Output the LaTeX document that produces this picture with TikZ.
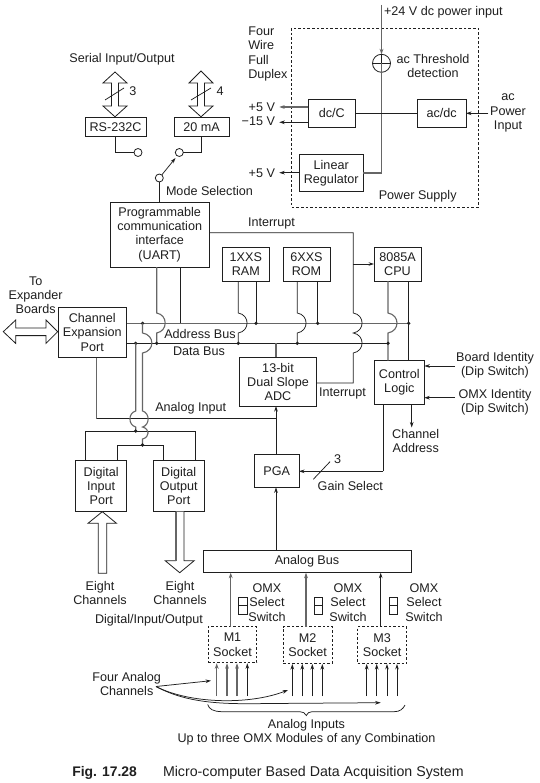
\documentclass[tikz,border=0pt]{standalone}
\usepackage{fontspec}
\setmainfont{Liberation Sans}
\usetikzlibrary{arrows.meta}
\definecolor{ink}{gray}{0.12}
\definecolor{wire}{gray}{0.4}
\tikzset{
  x=1pt,y=-1pt,
  every node/.style={inner sep=0pt,outer sep=0pt},
  txt/.style={font=\fontsize{12.6}{14.2}\selectfont,text=ink,align=center},
  blk/.style={draw=ink,line width=0.8pt,fill=white,txt,minimum width=0pt,minimum height=0pt},
  dashblk/.style={blk,dashed,dash pattern=on 2.4pt off 2pt},
  ln/.style={draw=ink,line width=0.75pt},
  gl/.style={draw=wire,line width=1.1pt},
  arr/.style={ln,-{Stealth[length=5.5pt,width=3.6pt]}},
  garr/.style={gl,-{Stealth[length=5.5pt,width=3.8pt]}},
  dotn/.style={circle,fill=ink,minimum size=3.6pt},
  port/.style={circle,draw=ink,line width=0.8pt,fill=white,minimum size=8pt},
  hollow/.style={draw=ink,line width=0.8pt,fill=white,line join=miter},
}
\newcommand{\lbl}[3]{\node[txt] at (#1,#2) {#3};}
\begin{document}
\begin{tikzpicture}
\useasboundingbox (0,0) rectangle (539,783);
\fill[white] (0,0) rectangle (539,783);

% ---- power supply
\draw[ink,line width=0.8pt,dash pattern=on 2.6pt off 2pt] (291.7,28) rectangle (478,207.3);
\node[blk,minimum width=46.7pt,minimum height=28pt] (dcc) at (331.7,113.3) {dc/C};
\node[blk,minimum width=48.7pt,minimum height=28pt] (acdc) at (441.7,113.3) {ac/dc};
\node[blk,minimum width=64.3pt,minimum height=37.4pt] (linreg) at (331.2,173) {Linear\\Regulator};
\node[circle,draw=ink,line width=0.8pt,minimum size=18pt] (thr) at (381.5,63.3) {};
\draw[ln] (thr.west) -- (thr.east);
\coordinate (top24) at (thr.north |- 0,5);
\draw[garr] (top24) -- (thr.north);
\coordinate (junc) at (thr.center |- linreg.east);
\draw[ln,line width=0.6pt] (thr.north) -- (thr.center);
\draw[gl] (thr.center) -- (junc) -- (linreg.east);
\draw[ln] (dcc.east) -- (acdc.west);
\coordinate (ps1) at (279.3,107); \coordinate (ps2) at (279.3,122.3); \coordinate (ps3) at (279.3,172.7);
\draw[garr] (dcc.west |- ps1) -- (ps1);
\draw[arr] (dcc.west |- ps2) -- (ps2);
\draw[arr] (linreg.west |- ps3) -- (ps3);
\coordinate (acin) at (488.3,113.3);
\draw[arr] (acin) -- (acdc.east);
\node[txt,anchor=west] at (384,12) {+24 V dc power input};
\lbl{433}{66}{ac Threshold\\detection}
\node[txt,align=left,anchor=north west] at (248.3,27) {Four\\Wire\\Full\\Duplex};
\node[txt,anchor=east] at (275,107) {+5 V};
\node[txt,anchor=east] at (275,121.5) {\textminus15 V};
\node[txt,anchor=east] at (275,173) {+5 V};
\lbl{508}{113}{ac\\Power\\Input}
\lbl{417.7}{196.7}{Power Supply}

% ---- serial section
\lbl{122}{59}{Serial Input/Output}
\node[blk,minimum width=61pt,minimum height=19.5pt] (rs) at (115.5,126.7) {RS-232C};
\node[blk,minimum width=55pt,minimum height=19.5pt] (ma) at (201.5,126.7) {20 mA};
\draw[hollow] (115,72) -- (127,83) -- (118.5,83) -- (118.5,106) -- (127,106) -- (115,116.8) -- (103,106) -- (111.5,106) -- (111.5,83) -- (103,83) -- cycle;
\draw[hollow] (201,71) -- (213,83) -- (204.5,83) -- (204.5,106) -- (213,106) -- (201,116.8) -- (189,106) -- (197.5,106) -- (197.5,83) -- (189,83) -- cycle;
\coordinate (s1a) at (105,100); \coordinate (s1b) at (124,88);
\coordinate (s2a) at (191,100); \coordinate (s2b) at (211,88);
\draw[ln] (s1a) -- (s1b); \draw[ln] (s2a) -- (s2b);
\lbl{133}{91}{3}
\lbl{220}{91}{4}
\node[port] (p1) at (138,152.5) {};
\node[port] (p2) at (179.3,152.5) {};
\node[port] (pv) at (159.3,178) {};
\draw[ln] (rs.south) -- (rs.south |- p1) -- (p1.west);
\draw[ln] (ma.south) -- (ma.south |- p2) -- (p2.east);
\draw[arr] (pv) -- (175.5,158);
\node[txt,anchor=west] at (166,190.5) {Mode Selection};

% ---- UART
\node[blk,minimum width=99.4pt,minimum height=65pt] (uart) at (159.7,234.5) {Programmable\\communication\\interface\\(UART)};
\draw[ln] (pv.south) -- (pv.south |- uart.north);
\node[txt,anchor=west] at (248,223) {Interrupt};

% ---- memory / cpu
\node[blk,minimum width=46.3pt,minimum height=34pt] (ram) at (245.8,264) {1XXS\\RAM};
\node[blk,minimum width=47pt,minimum height=34pt] (rom) at (306.5,264) {6XXS\\ROM};
\node[blk,minimum width=47pt,minimum height=34pt] (cpu) at (397.5,264) {8085A\\CPU};
\node[blk,minimum width=68.7pt,minimum height=50.7pt] (chan) at (92.3,332.3) {Channel\\Expansion\\Port};
\node[blk,minimum width=77.4pt,minimum height=48.7pt] (adc) at (278,381.7) {13-bit\\Dual Slope\\ADC};
\node[blk,minimum width=50pt,minimum height=43.6pt] (ctl) at (399.3,382.5) {Control\\Logic};
\node[blk,minimum width=44.7pt,minimum height=33pt] (pga) at (276.7,470.8) {PGA};
\node[blk,minimum width=208pt,minimum height=22pt] (abus) at (307,561.7) {Analog Bus};
\node[blk,minimum width=51pt,minimum height=50.6pt] (dip) at (101.2,486) {Digital\\Input\\Port};
\node[blk,minimum width=51.3pt,minimum height=50.6pt] (dop) at (178.7,486) {Digital\\Output\\Port};
\node[dashblk,minimum width=48.4pt,minimum height=36pt] (m1) at (232.5,644.7) {M1\\Socket};
\node[dashblk,minimum width=48.7pt,minimum height=36.6pt] (m2) at (307.7,645) {M2\\Socket};
\node[dashblk,minimum width=49pt,minimum height=36.6pt] (m3) at (382.2,645) {M3\\Socket};

% ---- expander arrow
\draw[hollow] (3.3,331.7) -- (15.7,320) -- (15.7,328) -- (46,328) -- (46,320) -- (57.7,331.7) -- (46,343.4) -- (46,335.6) -- (15.7,335.6) -- (15.7,343.4) -- cycle;
\lbl{35.7}{295}{To\\Expander\\Boards}

% ---- buses
\coordinate (adrR) at (408.7,323.3);
\coordinate (datR) at (388,343.3);
\draw[gl] (chan.east |- adrR) -- (adrR);
\draw[ln] (chan.east |- datR) -- (datR);
\node[txt] at (200,334) {Address Bus};
\node[txt] at (199,351) {Data Bus};

\draw[gl] (uart.south -| 156.7,0) -- (156.7,313) .. controls (168,315) and (168,331) .. (156.7,333) -- (156.7,343.3);
\node[dotn] (d1) at (156.7,343.3) {};
\draw[ln] (uart.south -| 180.3,0) -- (180.3,323.3);
\draw[ln] (ram.south -| 238.3,0) -- (238.3,313) .. controls (250,315) and (250,331) .. (238.3,333) -- (238.3,343.3);
\node[dotn] at (238.3,343.3) {};
\draw[ln] (ram.south -| 256,0) -- (256,323.3);
\node[dotn] at (256,323.3) {};
\draw[ln] (rom.south -| 297.3,0) -- (297.3,313) .. controls (309,315) and (309,331) .. (297.3,333) -- (297.3,343.3);
\node[dotn] at (297.3,343.3) {};
\draw[ln] (rom.south -| 317.7,0) -- (317.7,323.3);
\node[dotn] at (317.7,323.3) {};
\draw[gl] (cpu.south -| 388,0) -- (388,313) .. controls (400,315) and (400,331) .. (388,333) -- (388,343.3) -- (ctl.north -| 388,0);
\node[dotn] at (388,343.3) {};
\draw[ln] (cpu.south -| 408.7,0) -- (ctl.north -| 408.7,0);
\node[dotn] at (408.7,323.3) {};
\draw[gl] (276,343.3) -- (adc.north -| 276,0);

% ---- interrupt
\coordinate (i1) at (353.3,232.7);
\draw[ln] (uart.east |- i1) -- (i1) -- (353.3,313) .. controls (365,315) and (365,331) .. (353.3,333) .. controls (365,335) and (365,351) .. (353.3,353) -- (353.3,383) -- (adc.east |- 0,383);
\draw[arr] (353.3,264) -- (cpu.west);
\node[txt,anchor=west] at (319,393.5) {Interrupt};

% ---- control logic I/O
\coordinate (bi) at (455,366); \coordinate (oi) at (455,397.7);
\draw[arr] (bi) -- (ctl.east |- bi);
\draw[arr] (oi) -- (ctl.east |- oi);
\lbl{495}{365}{Board Identity\\(Dip Switch)}
\lbl{495}{402}{OMX Identity\\(Dip Switch)}
\coordinate (ca) at (411.7,427.5);
\draw[arr] (ctl.south -| ca) -- (ca);
\lbl{415.7}{441}{Channel\\Address}
\coordinate (gc) at (383.3,471.3);
\draw[ln] (ctl.south -| gc) -- (gc);
\draw[arr] (gc) -- (pga.east |- gc);
\coordinate (g1) at (313.3,479.3); \coordinate (g2) at (330,461.7);
\draw[ln] (g1) -- (g2);
\lbl{337.7}{459.3}{3}
\node[txt,anchor=west] at (317.7,485.7) {Gain Select};

% ---- analog input
\coordinate (ai) at (96.7,418.7);
\draw[gl] (chan.south -| ai) -- (ai);
\draw[ln] (ai) -- (276,418.7);
\draw[arr] (pga.north -| 276,0) -- (adc.south -| 276,0);
\draw[arr] (abus.north -| 276,0) -- (pga.south -| 276,0);
\node[txt] at (190.7,408) {Analog Input};

% ---- port tree
\coordinate (t1) at (135.7,431);
\coordinate (t2) at (142.5,445);
\node[dotn] at (135.7,343.3) {};
\node[dotn] at (142.5,323.3) {};
\draw[ln] (dip.north -| 85.7,0) -- (85.7,431) -- (195.7,431) -- (dop.north -| 195.7,0);
\draw[ln] (dip.north -| 117.3,0) -- (117.3,445) -- (163.3,445) -- (dop.north -| 163.3,0);
\draw[gl] (135.7,343.3) -- (135.7,411) .. controls (128,413) and (128,425) .. (135.7,427) -- (t1);
\draw[gl] (142.5,323.3) -- (142.5,333) .. controls (155,335) and (155,351) .. (142.5,353) -- (142.5,411) .. controls (150,413) and (150,425) .. (142.5,427) .. controls (150,429) and (150,437) .. (142.5,439) -- (t2);
\node[dotn] at (t1) {};
\node[dotn] at (t2) {};

% ---- hollow arrows
\draw[hollow] (102.3,511.7) -- (116.5,523.3) -- (106.7,523.3) -- (106.7,573.3) -- (98.3,573.3) -- (98.3,523.3) -- (88,523.3) -- cycle;
\draw[hollow] (175.7,511.7) -- (175.7,560.7) -- (165.2,560.7) -- (179.7,572.7) -- (194.2,560.7) -- (184,560.7) -- (184,511.7);
\draw[gl,line width=1.6pt] (175.7,511.7) -- (175.7,560.7);
\lbl{100}{593}{Eight\\Channels}
\lbl{180}{593}{Eight\\Channels}
\node[txt] at (149,620) {Digital/Input/Output};

% ---- OMX
\draw[garr] (m1.north -| 230.7,0) -- (abus.south -| 230.7,0);
\draw[garr] (m2.north -| 306,0) -- (abus.south -| 306,0);
\draw[arr] (m3.north -| 380.7,0) -- (abus.south -| 380.7,0);
\foreach \a/\b/\n in {238.3/247.3/a,314/322.7/b,389/397.3/c}{
  \draw[ink,line width=0.8pt] (\a,597.3) rectangle (\b,614.3);
  \draw[ink,line width=0.8pt] (\a,605.8) -- (\b,605.8);
}
\lbl{267}{602.5}{OMX\\Select\\Switch}
\lbl{348}{602.5}{OMX\\Select\\Switch}
\lbl{424}{602.5}{OMX\\Select\\Switch}
\foreach \x in {216.7,227,237}{\draw[garr] (\x,696) -- (\x,663.3);}
\draw[arr] (247.3,696) -- (247.3,663.3);
\foreach \x in {292.3,302.3,312.3,322.3,366.7,376.7,387,397}{\draw[arr] (\x,696) -- (\x,664);}

% ---- annotations
\lbl{126.7}{684}{Four Analog\\Channels}
\coordinate (fa) at (156,686.5);
\draw[arr] (fa) -- (211,680.7);
\draw[arr] (fa) .. controls (190,704) and (250,705) .. (288,690);
\draw[arr] (fa) .. controls (190,705) and (230,704) .. (270,703.5) -- (380.7,702.7);
\draw[ln] (207.7,704.5) .. controls (209,709) and (213,711.5) .. (222,711.7) -- (300,711.7) .. controls (303,711.7) and (305,713) .. (306.3,715.5) .. controls (307.5,713) and (309,711.7) .. (312,711.7) -- (394,711.7) .. controls (400,711.7) and (403,709) .. (405,705);
\lbl{306.5}{732}{Analog Inputs\\Up to three OMX Modules of any Combination}
\node[txt,font=\fontsize{13.9}{15}\selectfont\bfseries,anchor=west] at (72.3,773) {Fig. 17.28};
\node[txt,font=\fontsize{14.2}{15}\selectfont,anchor=west] at (163,773) {Micro-computer Based Data Acquisition System};
\end{tikzpicture}
\end{document}
